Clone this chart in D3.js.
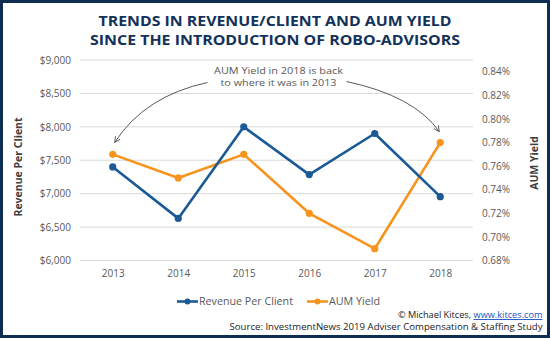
<!DOCTYPE html>
<html>
<head>
<meta charset="utf-8">
<script src="https://cdn.jsdelivr.net/npm/d3@7"></script>
<style>
  html, body { margin: 0; padding: 0; background: #fff; }
  svg { display: block; }
  text { font-family: "Open Sans", "DejaVu Sans", sans-serif; }
</style>
</head>
<body>
<svg id="chart" width="550" height="338"></svg>
<script>
const years = ["2013", "2014", "2015", "2016", "2017", "2018"];
const revenuePerClient = [7400, 6630, 8000, 7285, 7900, 6955];
const aumYield = [0.77, 0.75, 0.77, 0.72, 0.69, 0.78];
const leftTicks = [6000, 6500, 7000, 7500, 8000, 8500, 9000];
const rightTicks = [0.68, 0.70, 0.72, 0.74, 0.76, 0.78, 0.80, 0.82, 0.84];
const titleLines = ["TRENDS IN REVENUE/CLIENT AND AUM YIELD", "SINCE THE INTRODUCTION OF ROBO-ADVISORS"];
const seriesNames = ["Revenue Per Client", "AUM Yield"];
const annotationLines = ["AUM Yield in 2018 is back", "to where it was in 2013"];

const blue = "#1b5a96", orange = "#f7941d", navy = "#13325a", gray = "#595959";
const svg = d3.select("#chart");
const plot = {left: 80, right: 473, top: 60, bottom: 260.5};

// border
svg.append("rect").attr("x", 1.5).attr("y", 1.5).attr("width", 547).attr("height", 335)
  .attr("fill", "#fff").attr("stroke", "#0f2d50").attr("stroke-width", 3);

// title
const titleW = [353, 370];
titleLines.forEach((t, i) => {
  svg.append("text").attr("x", 275).attr("y", 25.7 + i * 19.5)
    .attr("text-anchor", "middle").attr("font-size", 15).attr("font-weight", 700)
    .attr("fill", navy).attr("textLength", titleW[i]).attr("lengthAdjust", "spacingAndGlyphs")
    .text(t);
});

const x = d3.scalePoint().domain(years).range([plot.left, plot.right]).padding(0.5);
const yL = d3.scaleLinear().domain([6000, 9000]).range([plot.bottom, plot.top]);
const yR = d3.scaleLinear().domain([0.68, 0.85]).range([plot.bottom, plot.top]);

// gridlines
svg.append("g").selectAll("line").data(leftTicks).join("line")
  .attr("x1", plot.left).attr("x2", plot.right)
  .attr("y1", d => yL(d)).attr("y2", d => yL(d))
  .attr("stroke", "#d9d9d9").attr("stroke-width", 1);

// left axis
const axL = svg.append("g").attr("transform", `translate(${plot.left - 9},0)`)
  .call(d3.axisLeft(yL).tickValues(leftTicks).tickSize(0).tickPadding(0)
    .tickFormat(d => "$" + d3.format(",")(d)));
axL.select(".domain").remove();
axL.selectAll("text").attr("font-size", 10).attr("fill", gray)
  .attr("font-family", "'Open Sans', sans-serif");

// right axis
const axR = svg.append("g").attr("transform", `translate(${plot.right + 9},0)`)
  .call(d3.axisRight(yR).tickValues(rightTicks).tickSize(0).tickPadding(0)
    .tickFormat(d => d.toFixed(2) + "%"));
axR.select(".domain").remove();
axR.selectAll("text").attr("font-size", 10).attr("fill", gray)
  .attr("font-family", "'Open Sans', sans-serif");

// x axis
const axX = svg.append("g").attr("transform", `translate(0,${plot.bottom + 8})`)
  .call(d3.axisBottom(x).tickSize(0).tickPadding(0));
axX.select(".domain").remove();
axX.selectAll("text").attr("font-size", 10).attr("fill", gray).attr("dy", "0.85em")
  .attr("font-family", "'Open Sans', sans-serif");

// axis titles
svg.append("text").attr("transform", "translate(22,167) rotate(-90)")
  .attr("text-anchor", "middle").attr("font-size", 10.5).attr("font-weight", 700)
  .attr("fill", "#404040").text("Revenue Per Client");
svg.append("text").attr("transform", "translate(538,163) rotate(-90)")
  .attr("text-anchor", "middle").attr("font-size", 10.5).attr("font-weight", 700)
  .attr("fill", "#404040").text("AUM Yield");

// series
const revData = years.map((y, i) => ({x: y, v: revenuePerClient[i]}));
const aumData = years.map((y, i) => ({x: y, v: aumYield[i]}));
function drawSeries(data, yScale, color) {
  svg.append("path").datum(data)
    .attr("d", d3.line().x(d => x(d.x)).y(d => yScale(d.v)))
    .attr("fill", "none").attr("stroke", color).attr("stroke-width", 2.6)
    .attr("stroke-linejoin", "round");
  svg.append("g").selectAll("circle").data(data).join("circle")
    .attr("cx", d => x(d.x)).attr("cy", d => yScale(d.v)).attr("r", 3.6).attr("fill", color);
}
drawSeries(aumData, yR, orange);
drawSeries(revData, yL, blue);

// annotation
const cx = (plot.left + plot.right) / 2;
const annW = [129, 116];
annotationLines.forEach((t, i) => {
  svg.append("text").attr("x", cx + 2).attr("y", 73.5 + i * 12.5)
    .attr("text-anchor", "middle").attr("font-size", 9.8).attr("fill", gray)
    .attr("textLength", annW[i]).attr("lengthAdjust", "spacingAndGlyphs").text(t);
});
svg.append("defs").append("marker").attr("id", "arr").attr("viewBox", "0 0 10 10")
  .attr("refX", 9).attr("refY", 5).attr("markerWidth", 7).attr("markerHeight", 7)
  .attr("orient", "auto-start-reverse")
  .append("path").attr("d", "M1,1 L9,5 L1,9").attr("fill", "none").attr("stroke", gray).attr("stroke-width", 1.3);

const lx = x(years[0]) + 2, ly = yR(aumYield[0]) - 12;
const rx = x(years[5]) - 1, ry = yR(aumYield[5]) - 11;
svg.append("path")
  .attr("d", `M${cx - 69},${82.5} Q${lx + 30},${96} ${lx},${ly}`)
  .attr("fill", "none").attr("stroke", gray).attr("stroke-width", 1).attr("marker-end", "url(#arr)");
svg.append("path")
  .attr("d", `M${cx + 70},${81.5} Q${rx - 25},${96} ${rx},${ry}`)
  .attr("fill", "none").attr("stroke", gray).attr("stroke-width", 1).attr("marker-end", "url(#arr)");

// legend
const legY = 301.5;
const legItems = [{name: seriesNames[0], color: blue, x0: 177, w: 94}, {name: seriesNames[1], color: orange, x0: 307, w: 51}];
legItems.forEach(it => {
  svg.append("line").attr("x1", it.x0).attr("x2", it.x0 + 21).attr("y1", legY).attr("y2", legY)
    .attr("stroke", it.color).attr("stroke-width", 2.6);
  svg.append("circle").attr("cx", it.x0 + 10.5).attr("cy", legY).attr("r", 3).attr("fill", it.color);
  svg.append("text").attr("x", it.x0 + 22).attr("y", legY).attr("dy", "0.35em")
    .attr("font-size", 10.5).attr("fill", gray)
    .attr("textLength", it.w).attr("lengthAdjust", "spacingAndGlyphs").text(it.name);
});

// footer
const f1 = svg.append("text").attr("x", 542.5).attr("y", 318).attr("text-anchor", "end")
  .attr("font-size", 9.2).attr("fill", "#222");
f1.append("tspan").text("© Michael Kitces, ");
f1.append("tspan").attr("fill", "#1a56c4").attr("text-decoration", "underline").text("www.kitces.com");
svg.append("text").attr("x", 542.5).attr("y", 329.5).attr("text-anchor", "end")
  .attr("font-size", 9.2).attr("fill", "#222").attr("textLength", 313).attr("lengthAdjust", "spacingAndGlyphs")
  .text("Source: InvestmentNews 2019 Adviser Compensation & Staffing Study");
</script>
</body>
</html>
